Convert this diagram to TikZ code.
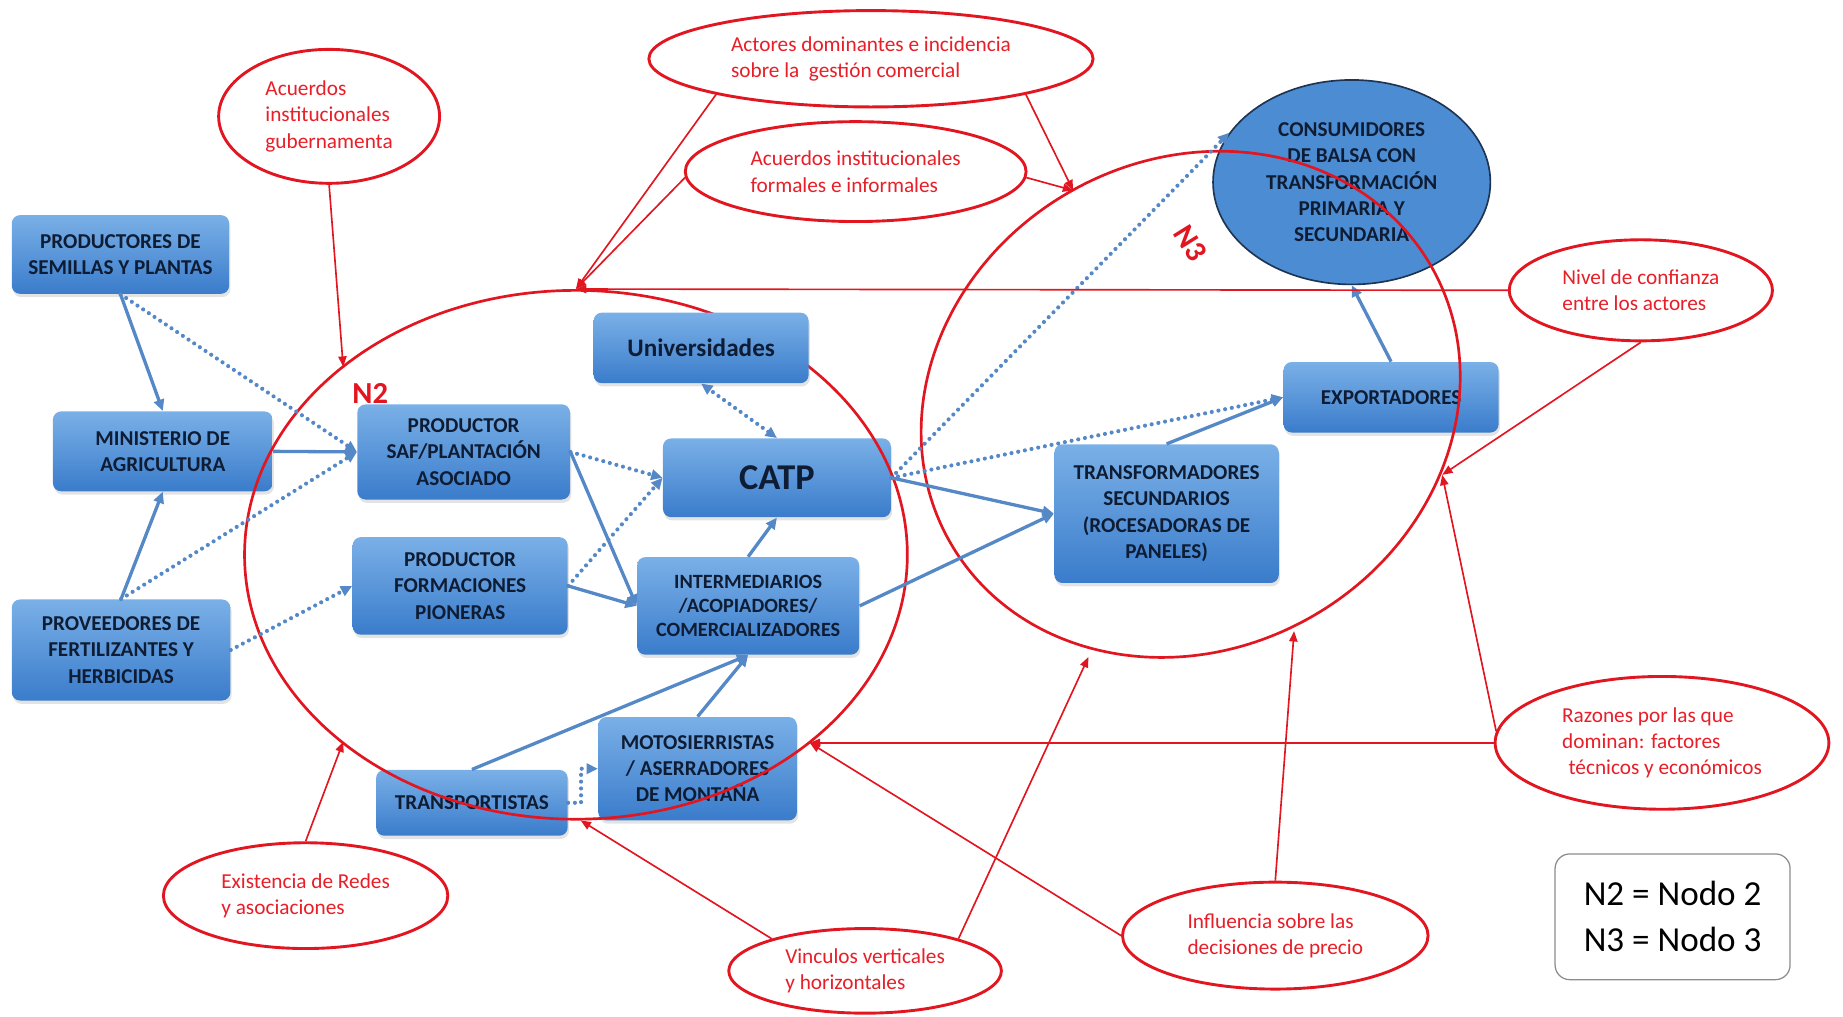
\documentclass[tikz,border=0pt]{standalone}
\usepackage{fontspec}
\setmainfont{Carlito}
\usetikzlibrary{shapes.geometric, arrows.meta, shadows}

\definecolor{boxtop}{RGB}{122,176,231}
\definecolor{boxbot}{RGB}{58,124,203}
\definecolor{boxtext}{RGB}{14,28,52}
\definecolor{flow}{RGB}{84,136,198}
\definecolor{annot}{RGB}{226,22,32}
\definecolor{annottext}{RGB}{232,30,40}
\definecolor{consfill}{RGB}{76,140,210}
\definecolor{consedge}{RGB}{30,52,82}

\begin{document}
\begin{tikzpicture}[x=0.02cm, y=-0.02cm,
  actor/.style={rectangle, rounded corners=0.14cm, top color=boxtop, bottom color=boxbot,
    draw=none, text=boxtext, font=\bfseries\fontsize{10.25}{12.7}\selectfont,
    align=center, inner sep=1pt,
    drop shadow={opacity=0.22, shadow xshift=0.6pt, shadow yshift=-1.6pt}},
  note/.style={ellipse, draw=annot, line width=1.4pt, fill=white, text=annottext,
    font=\fontsize{10.3}{12.8}\selectfont, align=left, inner sep=0pt},
  zone/.style={ellipse, draw=annot, line width=1.3pt, inner sep=0pt},
  zonelabel/.style={text=annot, font=\bfseries\fontsize{14.8}{16}\selectfont, inner sep=0pt},
  flowline/.style={draw=flow, line width=1.6pt, -{Triangle[length=5.5pt,width=5pt]}},
  flowdots/.style={draw=flow, line width=2pt, dash pattern=on 0pt off 3.3pt, line cap=round,
    -{Triangle[length=5.5pt,width=5pt]}},
  cue/.style={draw=annot, line width=0.8pt, -{Triangle[length=5pt,width=4pt]}},
  keybox/.style={rectangle, rounded corners=0.25cm, draw=black!45, line width=0.6pt, fill=white,
    font=\fontsize{17}{22.2}\selectfont, align=left, inner sep=0pt}
]
\useasboundingbox (0,0) rectangle (1568,865);

% ---- annotation ellipses ----
\node[note, minimum width=3.76cm, minimum height=2.28cm] (gub) at (280,99)
  {Acuerdos\\institucionales\\gubernamenta};
\node[note, minimum width=7.56cm, minimum height=1.64cm] (act) at (741,50)
  {Actores dominantes e incidencia\\sobre la\ \ gestión comercial};
\node[note, minimum width=5.8cm, minimum height=1.7cm] (acu) at (728,146)
  {Acuerdos institucionales\\formales e informales};
\node[note, minimum width=4.48cm, minimum height=1.72cm] (niv) at (1396,247)
  {Nivel de confianza\\entre los actores};
\node[note, minimum width=5.68cm, minimum height=2.26cm] (raz) at (1414,632)
  {Razones por las que\\dominan: factores\\\hspace*{0.3em}técnicos y económicos};
\node[note, minimum width=5.2cm, minimum height=1.82cm] (inf) at (1085,796)
  {Influencia sobre las\\decisiones de precio};
\node[note, minimum width=4.64cm, minimum height=1.44cm] (vin) at (736,826)
  {Vinculos verticales\\y horizontales};
\node[note, minimum width=4.84cm, minimum height=1.8cm] (exi) at (260,762)
  {Existencia de Redes\\y asociaciones};

% ---- actors ----
\node[actor, minimum width=3.70cm, minimum height=1.34cm] (semillas) at (102.5,216.5)
  {PRODUCTORES DE\\SEMILLAS Y PLANTAS};
\node[actor, minimum width=3.74cm, minimum height=1.36cm] (ministerio) at (138.5,384)
  {MINISTERIO DE\\AGRICULTURA};
\node[actor, minimum width=3.72cm, minimum height=1.72cm] (proveedores) at (103,553)
  {PROVEEDORES DE\\FERTILIZANTES Y\\HERBICIDAS};
\node[actor, minimum width=3.62cm, minimum height=1.62cm] (saf) at (394.5,384.5)
  {PRODUCTOR\\SAF/PLANTACIÓN\\ASOCIADO};
\node[actor, minimum width=3.66cm, minimum height=1.66cm] (pioneras) at (391.5,498.5)
  {PRODUCTOR\\FORMACIONES\\PIONERAS};
\node[actor, minimum width=3.88cm, minimum height=1.34cm,
  font=\bfseries\fontsize{17.6}{20}\selectfont] (catp) at (661,406.5) {CATP};
\node[actor, minimum width=3.78cm, minimum height=1.66cm,
  font=\bfseries\fontsize{9.8}{11.6}\selectfont] (interm) at (636.5,515.5)
  {INTERMEDIARIOS\\/ACOPIADORES/\\COMERCIALIZADORES};
\node[actor, minimum width=3.38cm, minimum height=1.76cm] (motos) at (593.5,654)
  {MOTOSIERRISTAS\\/ ASERRADORES\\DE MONTAÑA};
\node[actor, minimum width=3.26cm, minimum height=1.12cm] (transp) at (401.5,683)
  {TRANSPORTISTAS};
\node[actor, minimum width=3.82cm, minimum height=2.36cm] (transf) at (992.5,437)
  {TRANSFORMADORES\\SECUNDARIOS\\(ROCESADORAS DE\\PANELES)};
\node[actor, minimum width=3.66cm, minimum height=1.2cm] (export) at (1183.5,338)
  {EXPORTADORES};
\node[ellipse, fill=consfill, draw=consedge, line width=0.8pt, text=boxtext,
  font=\bfseries\fontsize{10.25}{12.75}\selectfont, align=center, inner sep=0pt,
  minimum width=4.72cm, minimum height=3.48cm] (consum) at (1150,155)
  {CONSUMIDORES\\DE BALSA CON\\TRANSFORMACIÓN\\PRIMARIA Y\\SECUNDARIA};

% ---- node zones N2 and N3 ----
\node[zone, minimum width=11.28cm, minimum height=9.0cm] (n2) at (490,472) {};
\node[zone, minimum width=9.44cm, minimum height=8.32cm, rotate=30] (n3) at (1013,344) {};
\node[zonelabel] (n2lab) at (315,335) {N2};
\node[zonelabel, rotate=-58] (n3lab) at (1013,207) {N3};

\node[actor, minimum width=3.66cm, minimum height=1.2cm,
  font=\bfseries\fontsize{12.2}{14}\selectfont] (univ) at (596.5,296) {Universidades};

% ---- key ----
\node[keybox, minimum width=4cm, minimum height=2.14cm] (key) at (1423,780)
  {N2 = Nodo 2\\N3 = Nodo 3};

% ---- anchor points of the annotation arrows ----
\coordinate (tGub) at (292,312);
\coordinate (tExi) at (292,631);
\coordinate (tMot) at (689,632);
\coordinate (tTr) at (494,698);
\coordinate (tA) at (913,162);
\coordinate (tR) at (1227,404);
\coordinate (tB) at (1101,537);
\coordinate (tBL) at (926,559);

% ---- flows between actors ----
\draw[flowline] (semillas.south) -- (ministerio.north);
\draw[flowline] (proveedores.north) -- (ministerio.south);
\draw[flowline] (ministerio.east) -- (saf.west);
\draw[flowdots] (semillas.south) -- (saf.west);
\draw[flowdots] (proveedores.north) -- (saf.west);
\draw[flowdots] (proveedores.east) -- (pioneras.west);
\draw[flowline] (saf.east) -- (interm.west);
\draw[flowline] (pioneras.east) -- (interm.west);
\draw[flowdots] (saf.east) -- (catp.west);
\draw[flowdots] (pioneras.east) -- (catp.west);
\draw[flowline] (interm.north) -- (catp.south);
\draw[flowdots, {Triangle[length=5.5pt,width=5pt]}-{Triangle[length=5.5pt,width=5pt]}]
  (catp.north) -- (univ.south);
\draw[flowline] (catp.east) -- (transf.west);
\draw[flowline] (interm.east) -- (transf.west);
\draw[flowdots] (catp.east) -- (export.west);
\draw[flowdots] (catp.east) -- (consum.158);
\draw[flowline] (transf.north) -- (export.west);
\draw[flowline] (export.north) -- (consum.south);
\draw[flowline] (motos.north) -- (interm.south);
\draw[flowline] (transp.north) -- (interm.south);
\draw[flowdots] (transp.east) -- ++(11,0) |- (motos.west);

% ---- annotation arrows ----
\draw[cue] (gub.south) -- (tGub);
\draw[cue] (act.193) -- (n2.north);
\draw[cue] (acu.182) -- (n2.north);
\draw[cue] (niv.west) -- (n2.north);
\draw[cue] (act.347) -- (tA);
\draw[cue] (acu.358) -- (tA);
\draw[cue] (niv.south) -- (tR);
\draw[cue] (raz.176) -- (tR);
\draw[cue] (raz.west) -- (tMot);
\draw[cue] (inf.west) -- (tMot);
\draw[cue] (inf.north) -- (tB);
\draw[cue] (vin.161) -- (tTr);
\draw[cue] (vin.19) -- (tBL);
\draw[cue] (exi.north) -- (tExi);
\end{tikzpicture}
\end{document}
